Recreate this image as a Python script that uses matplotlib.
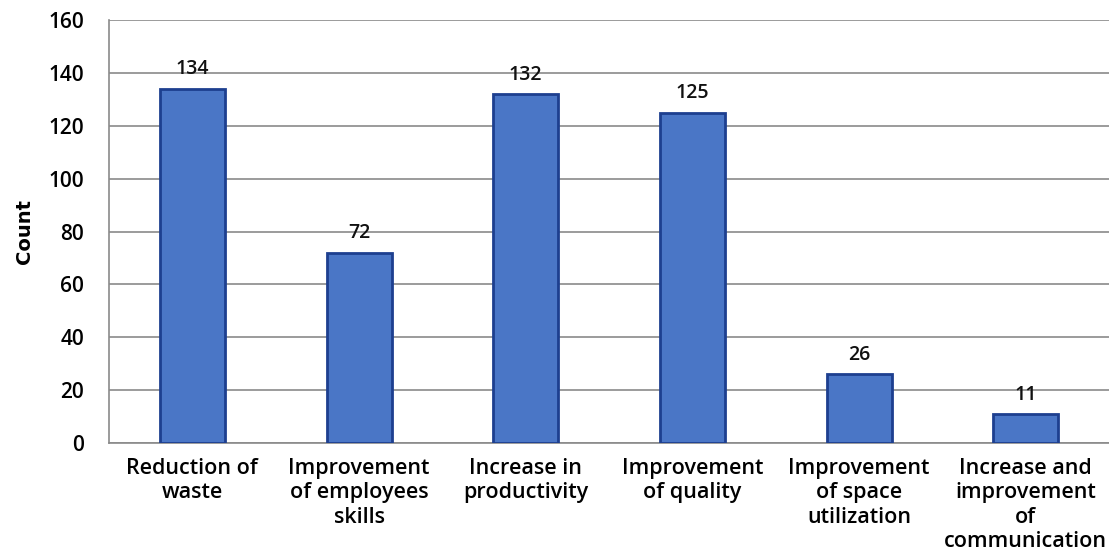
import matplotlib
matplotlib.use("Agg")
import matplotlib.pyplot as plt

categories = ["Reduction of\nwaste", "Improvement\nof employees\nskills", "Increase in\nproductivity",
              "Improvement\nof quality", "Improvement\nof space\nutilization",
              "Increase and\nimprovement\nof\ncommunication"]
counts = [134, 72, 132, 125, 26, 11]
yticks = [0, 20, 40, 60, 80, 100, 120, 140, 160]

plt.rcParams['font.family'] = ['Open Sans', 'DejaVu Sans']

fig = plt.figure(figsize=(11.09, 5.51), dpi=100)
ax = fig.add_axes([0.0983, 0.196, 0.9017, 0.7677])

x = range(len(categories))
bars = ax.bar(x, counts, width=0.39, color='#4a76c6', edgecolor='#1d3f8f', linewidth=2, zorder=3)

for b, v in zip(bars, counts):
    ax.text(b.get_x() + b.get_width()/2, v + 3.5, str(v), ha='center', va='bottom',
            fontsize=14, fontweight='semibold', color='#111111')

ax.set_xlim(-0.5, len(categories) - 0.5)
ax.set_ylim(0, 160)
ax.set_yticks(yticks)
ax.set_yticklabels([str(t) for t in yticks], fontsize=15, fontweight='semibold')
ax.set_xticks(list(x))
ax.set_xticklabels(categories, fontsize=15.5, fontweight='semibold', linespacing=1.2)
ax.tick_params(axis='both', length=0)
ax.tick_params(axis='y', pad=18)
ax.tick_params(axis='x', pad=11)

ax.grid(axis='y', color='#8a8a8a', linewidth=1.2, zorder=0)
for s in ['top', 'right']:
    ax.spines[s].set_visible(False)
ax.spines['left'].set_color('#8a8a8a')
ax.spines['bottom'].set_color('#8a8a8a')
ax.spines['left'].set_linewidth(1.2)
ax.spines['bottom'].set_linewidth(1.2)

ax.set_ylabel("Count", fontsize=14, fontweight='bold', family=['Liberation Sans Narrow', 'DejaVu Sans'], labelpad=10)

fig.savefig("out.png", dpi=100)
